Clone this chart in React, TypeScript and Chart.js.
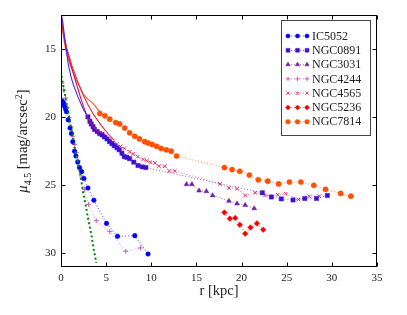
import React, { useEffect, useRef } from 'react';
import { Chart, registerables } from 'chart.js';
import { drawPoint } from 'chart.js/helpers';

Chart.register(...registerables);

// ---------- data ----------
const xTicks = [0, 5, 10, 15, 20, 25, 30, 35];
const yTicks = [15, 20, 25, 30];

const ic5052R = [0.1, 0.2, 0.3, 0.4, 0.5, 0.6, 0.8, 1.0, 1.15, 1.3, 1.5, 1.65, 1.85, 2.05, 2.28, 2.54, 2.98, 3.64, 5.04, 6.26, 8.17, 9.64];
const ic5052Mu = [18.8, 18.9, 19.0, 19.2, 19.4, 19.6, 20.2, 20.8, 21.2, 21.8, 22.5, 22.85, 23.3, 23.7, 24.0, 24.5, 25.2, 26.1, 27.8, 28.75, 28.7, 30.05];

const ngc0891InnerR = [0.0, 0.18, 0.44, 0.8, 1.1, 1.36, 1.9, 2.46, 3.0];
const ngc0891InnerMu = [12.5, 12.9, 14.4, 16.1, 17.0, 17.6, 18.55, 19.4, 20.0];
const ngc0891R = [2.98, 3.2, 3.35, 3.55, 3.7, 4.0, 4.27, 4.55, 4.8, 5.1, 5.37, 5.65, 5.9, 6.2, 6.45, 6.75, 7.0, 7.3, 7.6, 8.06, 8.53, 9.0, 9.4, 22.3, 23.3, 24.4, 25.7, 27.0, 28.3, 29.5];
const ngc0891Mu = [19.98, 20.3, 20.5, 20.7, 20.9, 21.05, 21.2, 21.3, 21.45, 21.6, 21.8, 21.95, 22.1, 22.25, 22.4, 22.65, 22.9, 22.95, 23.05, 23.3, 23.55, 23.65, 23.7, 25.55, 25.86, 26.0, 26.08, 25.97, 25.97, 25.75];

const ngc3031R = [13.9, 14.5, 15.3, 16.1, 16.8, 18.6, 19.5, 20.4, 21.4];
const ngc3031Mu = [24.93, 24.93, 25.4, 25.45, 25.75, 26.15, 26.35, 26.45, 26.7];

const ngc4244R = [0.1, 0.3, 0.5, 0.7, 0.9, 1.1, 1.3, 1.5, 1.7, 1.9, 2.1, 2.3, 2.6, 3.06, 3.9, 5.4, 7.17, 8.8];
const ngc4244Mu = [17.5, 18.0, 18.6, 19.3, 20.0, 20.7, 21.4, 22.0, 22.6, 23.2, 23.8, 24.4, 25.3, 26.4, 27.6, 28.4, 29.85, 29.6];

const ngc4565InnerR = [0.0, 0.2, 0.62, 1.17, 1.73, 2.28, 2.65, 3.0, 3.35, 3.7, 4.1, 4.6];
const ngc4565InnerMu = [12.5, 13.6, 15.0, 16.35, 17.6, 18.8, 19.5, 20.1, 20.5, 20.8, 21.05, 21.2];
const ngc4565R = [4.6, 5.0, 5.4, 5.8, 6.2, 6.6, 7.0, 7.6, 8.0, 8.5, 9.1, 9.5, 9.9, 10.4, 10.85, 11.5, 12.0, 12.6, 17.6, 18.6, 19.5, 20.4, 21.5, 22.6, 24.0, 24.9, 26.3, 27.5, 28.6];
const ngc4565Mu = [21.2, 21.4, 21.65, 21.85, 22.0, 22.15, 22.3, 22.55, 22.7, 22.9, 23.1, 23.2, 23.3, 23.36, 23.6, 23.6, 23.95, 23.95, 24.9, 25.2, 25.25, 25.75, 25.55, 25.75, 25.7, 25.62, 26.05, 25.8, 25.8];

const ngc5236InnerR = [0.0, 0.2, 0.62, 1.2, 1.8, 2.4, 3.0, 3.6, 4.45, 5.2, 5.9];
const ngc5236InnerMu = [12.5, 13.5, 14.9, 16.2, 17.3, 18.3, 19.1, 19.8, 20.6, 21.2, 21.7];
const ngc5236R = [18.1, 18.7, 19.3, 19.8, 20.4, 20.99, 21.7, 22.4];
const ngc5236Mu = [27.0, 27.45, 27.4, 27.9, 28.55, 28.1, 27.8, 28.26];

const ngc7814InnerR = [0.0, 0.1, 0.25, 0.44, 0.7, 0.99, 1.35, 1.73, 2.1, 2.46, 3.0, 3.57, 4.0, 4.4];
const ngc7814InnerMu = [12.5, 13.2, 14.0, 14.76, 15.5, 16.1, 16.75, 17.3, 17.8, 18.3, 18.7, 19.0, 19.35, 19.7];
const ngc7814R = [4.3, 4.86, 5.4, 6.07, 6.5, 7.06, 7.6, 8.17, 8.7, 9.27, 9.64, 10.1, 10.6, 11.1, 11.66, 12.2, 12.8, 18.1, 18.95, 19.8, 20.86, 21.85, 22.9, 24.1, 25.3, 26.57, 28.0, 29.3, 30.98, 32.1];
const ngc7814Mu = [19.73, 19.9, 20.15, 20.4, 20.5, 20.8, 21.15, 21.4, 21.6, 21.8, 21.9, 22.0, 22.15, 22.3, 22.4, 22.5, 22.85, 23.7, 23.85, 23.97, 24.25, 24.6, 24.7, 24.9, 24.76, 24.76, 25.0, 25.3, 25.6, 25.8];

const bulgeR = [0.05, 0.2, 0.35, 0.5, 0.65, 0.8, 0.95, 1.1, 1.25, 1.4, 1.55, 1.7, 1.85, 2.0, 2.15, 2.3, 2.45, 2.6, 2.75, 2.9, 3.05, 3.2, 3.35, 3.5, 3.65, 3.8, 3.9];
const bulgeMu = [17.0, 17.5, 18.0, 18.6, 19.1, 19.6, 20.2, 20.7, 21.2, 21.7, 22.3, 22.8, 23.3, 23.8, 24.3, 24.9, 25.5, 26.0, 26.5, 27.1, 27.6, 28.1, 28.6, 29.2, 29.8, 30.3, 30.7];

// ---------- styles ----------
const FONT = '"Liberation Serif", "Times New Roman", serif';

type Series = { label: string; r: number[]; mu: number[]; color: string; line: string; style: any; radius: number; bw: number };

const series: Series[] = [
  { label: 'IC5052', r: ic5052R, mu: ic5052Mu, color: '#0000ff', line: 'rgba(0,0,255,0.55)', style: 'circle', radius: 2.3, bw: 0.5 },
  { label: 'NGC0891', r: ngc0891R, mu: ngc0891Mu, color: '#4010d0', line: 'rgba(64,16,208,0.55)', style: 'rect', radius: 3, bw: 0.5 },
  { label: 'NGC3031', r: ngc3031R, mu: ngc3031Mu, color: '#7020a0', line: 'rgba(112,32,160,0.55)', style: 'triangle', radius: 2.8, bw: 0.5 },
  { label: 'NGC4244', r: ngc4244R, mu: ngc4244Mu, color: '#c860b8', line: 'rgba(200,96,184,0.55)', style: 'cross', radius: 2.5, bw: 1 },
  { label: 'NGC4565', r: ngc4565R, mu: ngc4565Mu, color: '#e0306a', line: 'rgba(224,48,106,0.55)', style: 'crossRot', radius: 2.6, bw: 1 },
  { label: 'NGC5236', r: ngc5236R, mu: ngc5236Mu, color: '#ff0000', line: 'rgba(255,0,0,0.55)', style: 'rectRot', radius: 2.8, bw: 0.5 },
  { label: 'NGC7814', r: ngc7814R, mu: ngc7814Mu, color: '#ff5000', line: 'rgba(255,80,0,0.55)', style: 'circle', radius: 2.6, bw: 0.5 },
];

const pts = (r: number[], m: number[]) => r.map((x, i) => ({ x, y: m[i] }));

const solid = (r: number[], m: number[], color: string) => ({
  label: '', data: pts(r, m), showLine: true, borderColor: color, borderWidth: 1.1,
  pointRadius: 0, tension: 0, fill: false,
});

const framePlugin = {
  id: 'frameTicks',
  afterDatasetsDraw(chart: any) {
    const { ctx, chartArea: a, scales } = chart;
    ctx.save();
    ctx.strokeStyle = '#000';
    ctx.lineWidth = 1;
    const L = Math.round(a.left) + 0.5, R = Math.round(a.right) - 0.5;
    const T = Math.round(a.top) + 0.5, B = Math.round(a.bottom) - 0.5;
    ctx.strokeRect(L, T, R - L, B - T);
    ctx.beginPath();
    xTicks.forEach((v) => {
      const px = Math.round(scales.x.getPixelForValue(v)) + 0.5;
      ctx.moveTo(px, B); ctx.lineTo(px, B - 4);
      ctx.moveTo(px, T); ctx.lineTo(px, T + 4);
    });
    yTicks.forEach((v) => {
      const py = Math.round(scales.y.getPixelForValue(v)) + 0.5;
      ctx.moveTo(L, py); ctx.lineTo(L + 4, py);
      ctx.moveTo(R, py); ctx.lineTo(R - 4, py);
    });
    ctx.stroke();
    ctx.restore();
  },
  afterDraw(chart: any) {
    const { ctx, chartArea: a } = chart;
    ctx.save();
    // x title
    ctx.fillStyle = '#222';
    ctx.font = `14.5px ${FONT}`;
    ctx.textAlign = 'center';
    ctx.textBaseline = 'middle';
    ctx.fillText('r [kpc]', (a.left + a.right) / 2, 291);
    // y title (rotated, with sub/superscripts)
    const big = 14.5, small = 10;
    const parts: [string, number, number, boolean][] = [
      ['\u03bc', big, 0, true],
      ['4.5', small, 3.5, false],
      [' [mag/arcsec', big, 0, false],
      ['2', small, -5, false],
      [']', big, 0, false],
    ];
    let total = 0;
    const widths = parts.map(([t, s, , it]) => {
      ctx.font = `${it ? 'italic ' : ''}${s}px ${FONT}`;
      const w = ctx.measureText(t).width;
      total += w;
      return w;
    });
    ctx.translate(22, (a.top + a.bottom) / 2);
    ctx.rotate(-Math.PI / 2);
    ctx.textAlign = 'left';
    ctx.textBaseline = 'alphabetic';
    let x = -total / 2;
    parts.forEach(([t, s, dy, it], i) => {
      ctx.font = `${it ? 'italic ' : ''}${s}px ${FONT}`;
      ctx.fillText(t, x, 5 + dy);
      x += widths[i];
    });
    ctx.restore();

    // legend
    ctx.save();
    const bx = 281.5, by = 20.5, bw = 89, bh = 115;
    ctx.fillStyle = '#fff';
    ctx.fillRect(bx, by, bw, bh);
    ctx.strokeStyle = '#444';
    ctx.lineWidth = 1;
    ctx.strokeRect(bx, by, bw, bh);
    series.forEach((s, i) => {
      const y = 36 + i * 14.3;
      ctx.setLineDash([1, 2]);
      ctx.strokeStyle = s.line;
      ctx.lineWidth = 1.2;
      ctx.beginPath(); ctx.moveTo(288, y); ctx.lineTo(307, y); ctx.stroke();
      ctx.setLineDash([]);
      [288, 297.5, 307].forEach((px) => {
        ctx.fillStyle = s.color;
        ctx.strokeStyle = s.color;
        ctx.lineWidth = s.bw;
        drawPoint(ctx, { pointStyle: s.style, radius: s.radius * 0.9, borderWidth: s.bw, rotation: 0 } as any, px, y);
      });
      ctx.fillStyle = '#222';
      ctx.font = `12px ${FONT}`;
      ctx.textAlign = 'left';
      ctx.textBaseline = 'middle';
      ctx.fillText(s.label, 312, y + 0.5);
    });
    ctx.restore();
  },
};

export default function App() {
  const ref = useRef<HTMLCanvasElement | null>(null);
  useEffect(() => {
    document.body.style.margin = '0';
    if (!ref.current) return;
    const datasets: any[] = [
      solid(ngc0891InnerR, ngc0891InnerMu, '#4a28e8'),
      solid(ngc5236InnerR, ngc5236InnerMu, '#e42a3a'),
      solid(ngc4565InnerR, ngc4565InnerMu, '#cc1058'),
      solid(ngc7814InnerR, ngc7814InnerMu, '#ff5a1a'),
      {
        label: '', data: pts(bulgeR, bulgeMu), showLine: true, borderColor: '#008a00',
        borderWidth: 2, borderDash: [2, 2.5], pointRadius: 0, tension: 0,
      },
      ...series.map((s) => ({
        label: s.label, data: pts(s.r, s.mu), showLine: true,
        borderColor: s.line, borderWidth: 1.2, borderDash: [1, 2], tension: 0,
        pointStyle: s.style, pointRadius: s.radius, pointBorderWidth: s.bw,
        pointBackgroundColor: s.color, pointBorderColor: s.color,
      })),
    ];
    const chart = new Chart(ref.current, {
      type: 'scatter',
      data: { datasets },
      options: {
        animation: false,
        responsive: false,
        devicePixelRatio: 1,
        layout: { padding: { top: 15, right: 30, left: 0, bottom: 0 } },
        plugins: { legend: { display: false }, tooltip: { enabled: false } },
        scales: {
          x: {
            type: 'linear', min: 0, max: 35,
            grid: { display: false, drawTicks: false },
            border: { display: false },
            ticks: { stepSize: 5, padding: 5, color: '#222', font: { family: FONT, size: 11 } },
            afterFit: (s: any) => { s.height = 48; },
          },
          y: {
            type: 'linear', min: 12.5, max: 31, reverse: true,
            grid: { display: false, drawTicks: false },
            border: { display: false },
            ticks: { padding: 5, color: '#222', font: { family: FONT, size: 11 } },
            afterBuildTicks: (s: any) => { s.ticks = yTicks.map((v) => ({ value: v })); },
            afterFit: (s: any) => { s.width = 61; },
          },
        },
      },
      plugins: [framePlugin],
    } as any);
    return () => chart.destroy();
  }, []);
  return (
    <div style={{ width: 407, height: 315 }}>
      <canvas ref={ref} width={407} height={315} />
    </div>
  );
}
